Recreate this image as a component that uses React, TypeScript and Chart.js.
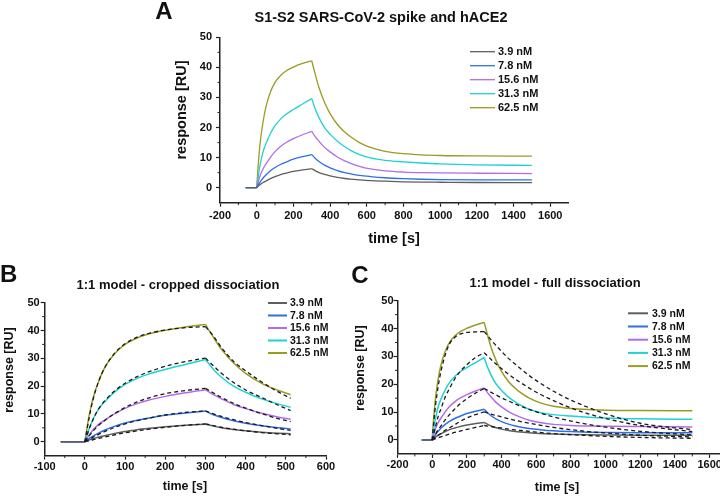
import React, { useEffect, useRef } from 'react';
import { Chart, registerables } from 'chart.js';

Chart.register(...registerables);

const FONT = '"Liberation Sans", Arial, Helvetica, sans-serif';

// ---------- categories / styling keys ----------
const concentrations = ['3.9 nM', '7.8 nM', '15.6 nM', '31.3 nM', '62.5 nM'];
const seriesColors = ['#5e5e5e', '#2f6fe6', '#b46be8', '#1fd2d2', '#9b9a22'];

// ---------- time axes (s) ----------
const baselineTime = [-60, 0];
const baselineResp = [0, 0];
const assocTime = [0, 10, 20, 35, 50, 75, 100, 130, 160, 200, 250, 300];
const dissocTime = [300, 320, 340, 370, 400, 440, 480, 512, 560, 620, 700, 800, 900, 1000, 1200, 1500];
const dissocTimeCropped = [300, 320, 340, 370, 400, 440, 480, 512];

// ---------- measured sensorgrams (RU) ----------
const meas39Assoc = [0, 0.6, 1.1, 1.7, 2.2, 3.0, 3.7, 4.3, 4.8, 5.4, 5.9, 6.3];
const meas78Assoc = [0, 1.1, 2.0, 3.2, 4.2, 5.6, 6.7, 7.7, 8.5, 9.5, 10.3, 11.0];
const meas156Assoc = [0, 2.3, 4.2, 6.3, 7.8, 10.1, 12.0, 13.7, 15.0, 16.3, 17.6, 18.7];
const meas313Assoc = [0, 4.5, 8.0, 12.0, 14.5, 18.0, 20.6, 22.8, 24.4, 26.0, 27.8, 29.6];
const meas625Assoc = [0, 9.0, 15.5, 22.0, 26.8, 31.8, 35.0, 37.3, 38.8, 40.1, 41.3, 42.2];

const meas39Dissoc = [6.3, 5.6, 5.0, 4.4, 3.9, 3.4, 3.05, 2.85, 2.6, 2.35, 2.15, 1.95, 1.85, 1.8, 1.72, 1.7];
const meas78Dissoc = [11.0, 9.7, 8.7, 7.5, 6.6, 5.7, 5.0, 4.6, 4.1, 3.7, 3.3, 3.0, 2.8, 2.7, 2.62, 2.6];
const meas156Dissoc = [18.7, 16.9, 15.4, 13.4, 11.9, 10.2, 8.9, 8.1, 7.1, 6.25, 5.6, 5.2, 5.0, 4.9, 4.8, 4.7];
const meas313Dissoc = [29.6, 26.0, 23.2, 20.0, 17.8, 15.4, 13.6, 12.4, 11.0, 9.9, 9.1, 8.6, 8.2, 7.9, 7.6, 7.4];
const meas625Dissoc = [42.2, 37.5, 33.2, 28.3, 24.6, 21.0, 18.5, 16.9, 15.0, 13.4, 12.1, 11.3, 10.9, 10.7, 10.55, 10.5];

// ---------- 1:1 fit, cropped dissociation (panel B) ----------
const fitB39Assoc = [0, 0.3, 0.7, 1.2, 1.7, 2.5, 3.2, 3.9, 4.5, 5.2, 5.9, 6.4];
const fitB78Assoc = [0, 0.8, 1.6, 2.7, 3.7, 5.2, 6.4, 7.6, 8.5, 9.6, 10.5, 11.1];
const fitB156Assoc = [0, 2.0, 3.8, 6.0, 7.7, 10.2, 12.3, 14.3, 15.8, 17.3, 18.4, 19.2];
const fitB313Assoc = [0, 4.3, 7.9, 12.0, 14.8, 18.4, 21.0, 23.4, 25.2, 27.1, 28.8, 30.1];
const fitB625Assoc = [0, 8.2, 15.0, 22.0, 26.8, 32.0, 35.2, 37.6, 39.0, 40.2, 41.0, 41.4];

const fitB39Dissoc = [6.4, 5.8, 5.2, 4.5, 3.9, 3.3, 2.8, 2.5];
const fitB78Dissoc = [11.1, 10.0, 9.1, 7.9, 6.9, 5.8, 4.8, 4.1];
const fitB156Dissoc = [19.2, 17.5, 15.9, 13.8, 12.1, 10.1, 8.3, 7.2];
const fitB313Dissoc = [30.1, 27.3, 24.6, 21.3, 18.6, 15.9, 13.2, 11.2];
const fitB625Dissoc = [41.4, 38.0, 33.8, 28.9, 25.5, 21.5, 18.0, 15.6];

// ---------- 1:1 fit, full dissociation (panel C) ----------
const fitC39Assoc = [0, 0.2, 0.45, 0.8, 1.1, 1.6, 2.1, 2.7, 3.2, 3.8, 4.5, 5.2];
const fitC78Assoc = [0, 0.5, 1.0, 1.7, 2.3, 3.5, 4.4, 5.5, 6.6, 7.9, 9.1, 10.1];
const fitC156Assoc = [0, 1.1, 2.2, 3.7, 5.0, 7.2, 9.1, 11.1, 12.9, 14.8, 16.8, 18.5];
const fitC313Assoc = [0, 2.6, 5.0, 8.5, 11.1, 15.4, 18.5, 21.9, 24.5, 27.0, 29.6, 31.3];
const fitC625Assoc = [0, 7.0, 12.8, 19.4, 24.5, 30.5, 34.5, 36.8, 38.0, 38.6, 38.8, 38.9];

const fitC39Dissoc = [5.2, 5.0, 4.8, 4.5, 4.3, 3.9, 3.6, 3.4, 3.1, 2.7, 2.3, 1.9, 1.6, 1.3, 0.9, 0.6];
const fitC78Dissoc = [10.1, 9.7, 9.3, 8.8, 8.3, 7.6, 7.0, 6.6, 6.0, 5.3, 4.5, 3.7, 3.0, 2.5, 1.7, 1.1];
const fitC156Dissoc = [18.5, 17.8, 17.1, 16.1, 15.1, 14.0, 12.9, 12.1, 11.0, 9.7, 8.3, 6.8, 5.6, 4.6, 3.1, 1.8];
const fitC313Dissoc = [31.3, 30.1, 28.9, 27.2, 25.6, 23.6, 21.8, 20.5, 18.6, 16.5, 14.1, 11.5, 9.4, 7.7, 5.2, 3.0];
const fitC625Dissoc = [38.9, 37.4, 35.9, 33.8, 31.8, 29.3, 27.2, 25.5, 23.1, 20.5, 17.5, 14.3, 11.7, 9.4, 6.0, 3.7];

// ---------- tick values ----------
const yMinorTicks = [5, 15, 25, 35, 45];
const xMinorTicksWide = [-100, 100, 300, 500, 700, 900, 1100, 1300, 1500];
const xMinorTicksNarrow = [-50, 50, 150, 250, 350, 450, 550];

const measuredAssoc = [meas39Assoc, meas78Assoc, meas156Assoc, meas313Assoc, meas625Assoc];
const measuredDissoc = [meas39Dissoc, meas78Dissoc, meas156Dissoc, meas313Dissoc, meas625Dissoc];
const fitBAssoc = [fitB39Assoc, fitB78Assoc, fitB156Assoc, fitB313Assoc, fitB625Assoc];
const fitBDissoc = [fitB39Dissoc, fitB78Dissoc, fitB156Dissoc, fitB313Dissoc, fitB625Dissoc];
const fitCAssoc = [fitC39Assoc, fitC78Assoc, fitC156Assoc, fitC313Assoc, fitC625Assoc];
const fitCDissoc = [fitC39Dissoc, fitC78Dissoc, fitC156Dissoc, fitC313Dissoc, fitC625Dissoc];

type TextItem = { text: string; x: number; y: number; size: number; rotate?: boolean; align?: CanvasTextAlign };
type LegendSpec = { x1: number; x2: number; tx: number; y0: number; dy: number; size: number; lw: number };

interface PanelSpec {
  rect: { x: number; y: number; w: number; h: number };
  area: { left: number; right: number; top: number; bottom: number };
  xMin: number;
  xMax: number;
  xStep: number;
  xMinor: number[];
  dissocT: number[];
  fitA?: number[][];
  fitD?: number[][];
  dataWidth: number;
  xTickPad: number;
  yTickPad: number;
  texts: TextItem[];
  legend: LegendSpec;
}

function pts(t: number[], v: number[]) {
  return v.map((y, i) => ({ x: t[i], y }));
}

function decorPlugin(spec: PanelSpec) {
  return {
    id: 'decor',
    afterDraw(chart: any) {
      const ctx: CanvasRenderingContext2D = chart.ctx;
      const area = chart.chartArea;
      const xs = chart.scales.x;
      const ys = chart.scales.y;
      ctx.save();
      ctx.strokeStyle = '#222';
      ctx.lineWidth = 1;
      spec.xMinor.forEach((v) => {
        const p = xs.getPixelForValue(v);
        if (p > area.right + 0.5 || p < area.left - 0.5) return;
        ctx.beginPath();
        ctx.moveTo(p, area.bottom);
        ctx.lineTo(p, area.bottom + 2.5);
        ctx.stroke();
      });
      yMinorTicks.forEach((v) => {
        const p = ys.getPixelForValue(v);
        ctx.beginPath();
        ctx.moveTo(area.left, p);
        ctx.lineTo(area.left - 2.5, p);
        ctx.stroke();
      });
      ctx.fillStyle = '#111';
      ctx.textBaseline = 'middle';
      spec.texts.forEach((t) => {
        ctx.font = `bold ${t.size}px ${FONT}`;
        ctx.textAlign = t.align || 'center';
        if (t.rotate) {
          ctx.save();
          ctx.translate(t.x, t.y);
          ctx.rotate(-Math.PI / 2);
          ctx.fillText(t.text, 0, 0);
          ctx.restore();
        } else {
          ctx.fillText(t.text, t.x, t.y);
        }
      });
      const lg = spec.legend;
      ctx.font = `bold ${lg.size}px ${FONT}`;
      ctx.textAlign = 'left';
      concentrations.forEach((c, i) => {
        const y = lg.y0 + i * lg.dy;
        ctx.strokeStyle = seriesColors[i];
        ctx.lineWidth = lg.lw;
        ctx.beginPath();
        ctx.moveTo(lg.x1, y);
        ctx.lineTo(lg.x2, y);
        ctx.stroke();
        ctx.fillText(c, lg.tx, y + 0.5);
      });
      ctx.restore();
    },
  };
}

function buildConfig(spec: PanelSpec): any {
  const datasets: any[] = [];
  const nD = spec.dissocT.length;
  for (let i = 0; i < concentrations.length; i++) {
    const common = {
      borderColor: seriesColors[i],
      borderWidth: spec.dataWidth,
      pointRadius: 0,
      fill: false,
      order: 2,
    };
    datasets.push({ ...common, label: concentrations[i], data: pts(baselineTime, baselineResp), tension: 0 });
    datasets.push({ ...common, data: pts(assocTime, measuredAssoc[i]), cubicInterpolationMode: 'monotone' });
    datasets.push({ ...common, data: pts(spec.dissocT, measuredDissoc[i].slice(0, nD)), cubicInterpolationMode: 'monotone' });
    if (spec.fitA && spec.fitD) {
      const fitCommon = {
        borderColor: '#1a1a1a',
        borderWidth: 1.3,
        borderDash: [4, 3],
        pointRadius: 0,
        fill: false,
        order: 1,
        cubicInterpolationMode: 'monotone',
      };
      datasets.push({ ...fitCommon, data: pts(assocTime, spec.fitA[i]) });
      datasets.push({ ...fitCommon, data: pts(spec.dissocT, spec.fitD[i]) });
    }
  }
  const Y_W = 30;
  const X_H = 20;
  const tickFont = { family: FONT, size: 11, weight: 'bold' as const };
  return {
    type: 'line',
    data: { datasets },
    options: {
      animation: false,
      responsive: false,
      maintainAspectRatio: false,
      events: [],
      layout: {
        padding: {
          left: spec.area.left - Y_W,
          right: spec.rect.w - spec.area.right,
          top: spec.area.top,
          bottom: spec.rect.h - spec.area.bottom - X_H,
        },
      },
      plugins: { legend: { display: false }, tooltip: { enabled: false }, title: { display: false } },
      scales: {
        x: {
          type: 'linear',
          min: spec.xMin,
          max: spec.xMax,
          afterFit: (s: any) => {
            s.height = X_H;
          },
          ticks: {
            stepSize: spec.xStep,
            includeBounds: false,
            autoSkip: false,
            maxRotation: 0,
            padding: spec.xTickPad,
            color: '#111',
            font: tickFont,
            callback: (v: any) => String(v),
          },
          grid: { drawOnChartArea: false, drawTicks: true, tickLength: 4, tickColor: '#222', tickWidth: 1.2 },
          border: { display: true, color: '#222', width: 1.5 },
        },
        y: {
          type: 'linear',
          min: -5,
          max: 50,
          afterFit: (s: any) => {
            s.width = Y_W;
          },
          ticks: {
            stepSize: 10,
            includeBounds: false,
            autoSkip: false,
            padding: spec.yTickPad,
            color: '#111',
            font: tickFont,
            callback: (v: any) => String(v),
          },
          grid: { drawOnChartArea: false, drawTicks: true, tickLength: 4, tickColor: '#222', tickWidth: 1.2 },
          border: { display: true, color: '#222', width: 1.5 },
        },
      },
    },
    plugins: [decorPlugin(spec)],
  };
}

const panelA: PanelSpec = {
  rect: { x: 140, y: 0, w: 460, h: 250 },
  area: { left: 80, right: 428.6, top: 37.3, bottom: 202.7 },
  xMin: -200,
  xMax: 1700,
  xStep: 200,
  xMinor: xMinorTicksWide,
  dissocT: dissocTime,
  dataWidth: 1.3,
  xTickPad: 3,
  yTickPad: 4,
  texts: [
    { text: 'A', x: 24, y: 12, size: 24 },
    { text: 'S1-S2 SARS-CoV-2 spike and hACE2', x: 241, y: 17.5, size: 14.5 },
    { text: 'response [RU]', x: 42, y: 110, size: 14.5, rotate: true },
    { text: 'time [s]', x: 254, y: 239, size: 14.5 },
  ],
  legend: { x1: 330, x2: 355, tx: 358, y0: 51.7, dy: 14, size: 11, lw: 1.3 },
};

const panelB: PanelSpec = {
  rect: { x: 0, y: 250, w: 350, h: 246 },
  area: { left: 44.7, right: 326, top: 52.7, bottom: 205.6 },
  xMin: -100,
  xMax: 600,
  xStep: 100,
  xMinor: xMinorTicksNarrow,
  dissocT: dissocTimeCropped,
  fitA: fitBAssoc,
  fitD: fitBDissoc,
  dataWidth: 1.5,
  xTickPad: 1,
  yTickPad: 1,
  texts: [
    { text: 'B', x: 0, y: 25.5, size: 24, align: 'left' },
    { text: '1:1 model - cropped dissociation', x: 178, y: 35, size: 13 },
    { text: 'response [RU]', x: 10, y: 120, size: 12.5, rotate: true },
    { text: 'time [s]', x: 185, y: 236.7, size: 12.5 },
  ],
  legend: { x1: 268, x2: 287, tx: 290, y0: 53, dy: 12.5, size: 10.5, lw: 2 },
};

const panelC: PanelSpec = {
  rect: { x: 350, y: 250, w: 390, h: 246 },
  area: { left: 47.5, right: 377, top: 50.7, bottom: 203.9 },
  xMin: -200,
  xMax: 1700,
  xStep: 200,
  xMinor: xMinorTicksWide,
  dissocT: dissocTime,
  fitA: fitCAssoc,
  fitD: fitCDissoc,
  dataWidth: 1.5,
  xTickPad: 0,
  yTickPad: 0,
  texts: [
    { text: 'C', x: 10, y: 26.5, size: 24 },
    { text: '1:1 model - full dissociation', x: 205, y: 33.3, size: 13 },
    { text: 'response [RU]', x: 11, y: 118, size: 12.5, rotate: true },
    { text: 'time [s]', x: 207, y: 238, size: 12.5 },
  ],
  legend: { x1: 278, x2: 298, tx: 302, y0: 63.3, dy: 13.2, size: 10.5, lw: 2 },
};

function Panel({ spec }: { spec: PanelSpec }) {
  const ref = useRef<HTMLCanvasElement>(null);
  useEffect(() => {
    if (!ref.current) return;
    const chart = new Chart(ref.current, buildConfig(spec));
    return () => chart.destroy();
  }, [spec]);
  const { x, y, w, h } = spec.rect;
  return (
    <div style={{ position: 'absolute', left: x, top: y, width: w, height: h }}>
      <canvas ref={ref} width={w} height={h} style={{ width: w, height: h, display: 'block' }} />
    </div>
  );
}

export default function App() {
  return (
    <div
      style={{
        position: 'absolute',
        left: 0,
        top: 0,
        width: 720,
        height: 496,
        overflow: 'hidden',
        background: '#ffffff',
      }}
    >
      <Panel spec={panelA} />
      <Panel spec={panelB} />
      <Panel spec={panelC} />
    </div>
  );
}
